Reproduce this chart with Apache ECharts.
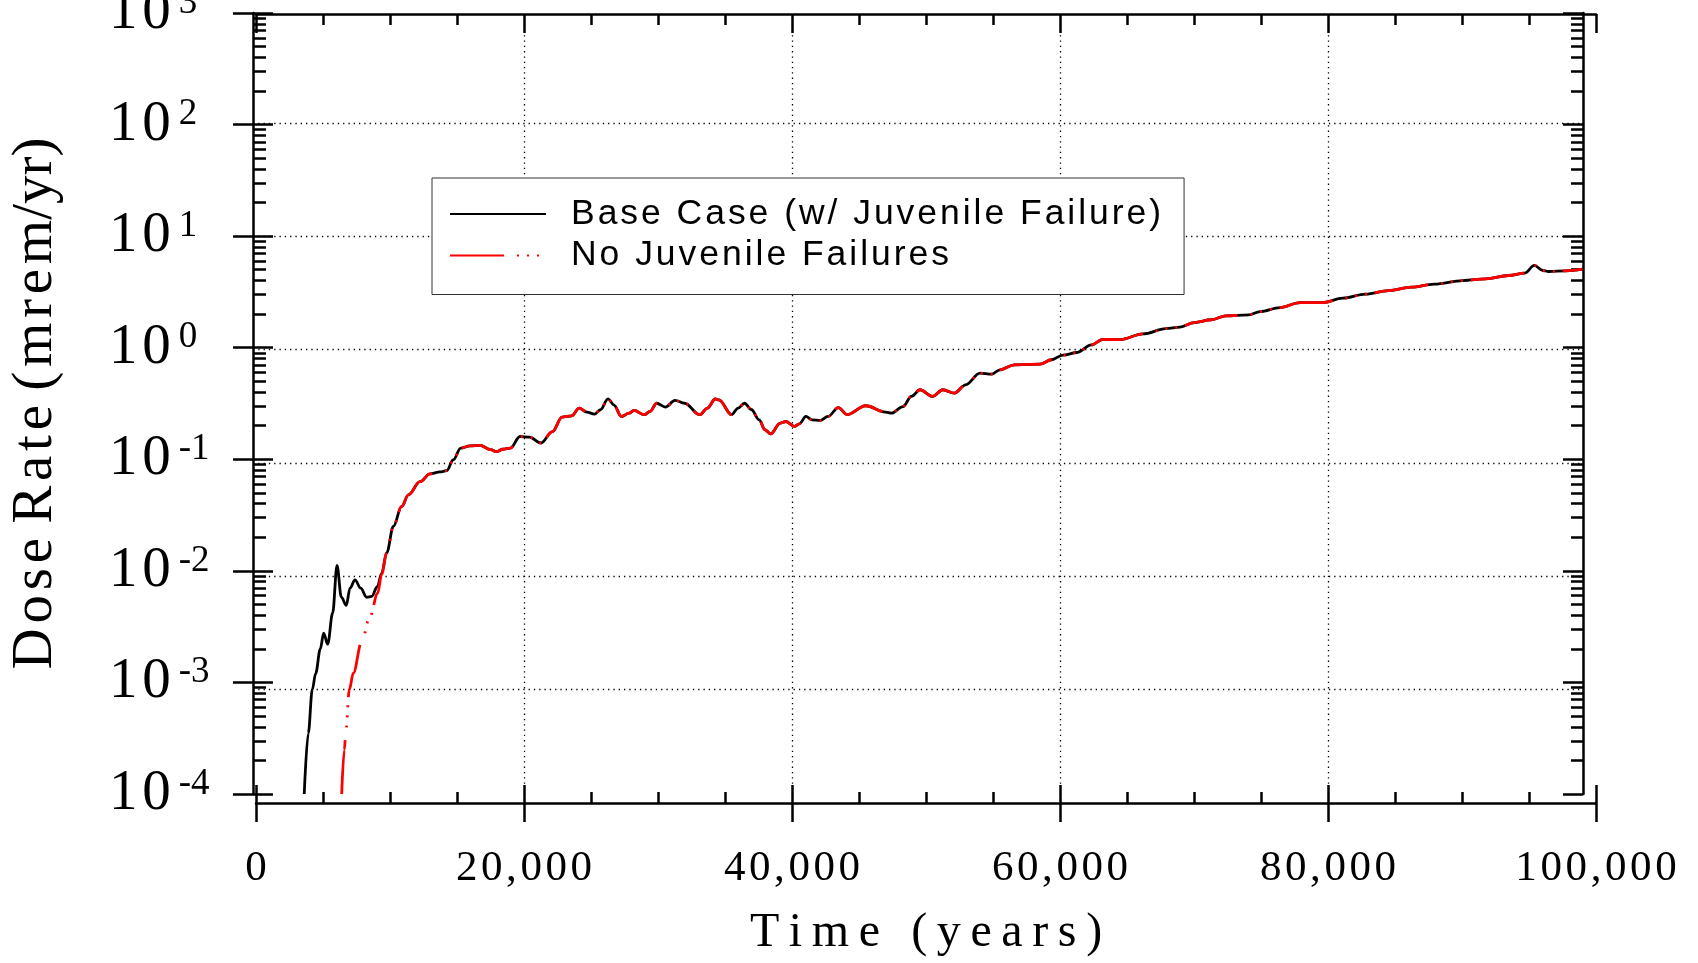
<!DOCTYPE html>
<html>
<head>
<meta charset="utf-8">
<script src="https://cdn.jsdelivr.net/npm/echarts@6.0.0/dist/echarts.min.js"></script>
<style>
html, body { margin: 0; padding: 0; background: #ffffff; }
#chart { width: 1698px; height: 963px; }
</style>
</head>
<body>
<div id="chart"></div>
<script>
// ---------------- data ----------------
const seriesNames = ['Base Case (w/ Juvenile Failure)', 'No Juvenile Failures'];

// early part, base case (with juvenile failures)
const baseEarlyYears = [3600, 3900, 4200, 4450, 4800, 5050, 5350, 5720, 6045, 6368, 6739, 7015, 7388, 7810, 8260, 8633, 9054, 9378];
const baseEarlyDose  = [1.0e-4, 3.5e-4, 8.6e-4, 1.2e-3, 2.0e-3, 2.77e-3, 2.2e-3, 4.19e-3, 1.12e-2, 5.82e-3, 4.9e-3, 7.0e-3, 8.3e-3, 7.0e-3, 5.8e-3, 5.9e-3, 7.2e-3, 9.5e-3];

// early part, no juvenile failures
const noJuvEarlyYears = [6394, 6590, 6716, 6963, 7262, 7888, 8507, 9082, 9378];
const noJuvEarlyDose  = [1.0e-4, 2.49e-4, 3.77e-4, 8.6e-4, 1.21e-3, 2.33e-3, 3.91e-3, 6.3e-3, 9.3e-3];

// part where both curves coincide
const sharedYears = [9750, 10250, 10870, 11370, 12240, 12985, 13730, 14230, 14725, 15275, 15970, 16715, 17515, 17960, 18410, 18980, 19700, 20410, 21270, 22120, 22840, 23550, 24120, 24690, 25270, 25700, 26270, 26700, 27270, 27840, 28210, 28980, 29400, 29900, 30550, 31270, 31980, 33120, 33690, 34270, 34550, 35490, 35980, 36460, 36980, 37550, 37980, 38410, 39120, 39550, 40180, 40550, 41040, 41490, 42120, 42690, 43460, 44120, 45500, 46990, 47420, 48280, 48910, 49550, 50490, 51260, 52110, 52960, 54030, 54880, 55520, 56590, 58510, 59360, 60220, 61280, 62340, 63200, 64480, 66190, 67890, 68960, 70020, 71300, 72370, 74070, 74930, 76420, 77910, 79620, 81110, 82810, 84520, 86220, 87930, 90060, 91770, 93480, 94670, 95400, 96040, 96460, 97740, 99000];
const sharedDose = [0.0145, 0.025, 0.0378, 0.048, 0.063, 0.074, 0.077, 0.079, 0.099, 0.126, 0.132, 0.133, 0.122, 0.117, 0.123, 0.126, 0.16, 0.158, 0.14, 0.177, 0.239, 0.245, 0.288, 0.265, 0.254, 0.278, 0.348, 0.308, 0.242, 0.259, 0.274, 0.251, 0.268, 0.318, 0.294, 0.337, 0.318, 0.251, 0.288, 0.347, 0.341, 0.251, 0.288, 0.318, 0.278, 0.226, 0.184, 0.169, 0.211, 0.218, 0.197, 0.208, 0.242, 0.226, 0.223, 0.242, 0.291, 0.251, 0.302, 0.265, 0.259, 0.297, 0.366, 0.42, 0.366, 0.42, 0.392, 0.465, 0.592, 0.579, 0.634, 0.703, 0.713, 0.78, 0.859, 0.906, 1.06, 1.19, 1.18, 1.33, 1.48, 1.53, 1.68, 1.78, 1.93, 1.97, 2.11, 2.29, 2.54, 2.54, 2.78, 3.02, 3.25, 3.49, 3.72, 4.0, 4.14, 4.44, 4.66, 5.46, 4.92, 4.82, 4.89, 5.06];

// ticks
const xTickValues = [0, 20000, 40000, 60000, 80000, 100000];
const xTickLabels = ['0', '20,000', '40,000', '60,000', '80,000', '100,000'];
const yTickValues = [1e-4, 1e-3, 1e-2, 1e-1, 1, 1e1, 1e2, 1e3];
const yTickExponents = ['-4', '-3', '-2', '-1', '0', '1', '2', '3'];
const yMinorTicks = [];
for (let e = -4; e < 3; e++) { for (let m = 2; m <= 9; m++) { yMinorTicks.push(m * Math.pow(10, e)); } }

const xTitle = 'Time (years)';
const yTitleParts = ['Dose', 'Rate', '(mrem', '/yr)'];

// ---------------- helpers ----------------
const HS = '\u200A';   // hair space (letter spacing)
const TS = '\u2009';   // thin space
const spread = (s, sep) => Array.from(s).join(sep);
const pairs = (xs, ys) => xs.map((x, i) => [x, ys[i]]);
const AX = '#000000';
const LW = 2.5;
const axLine = { color: AX, width: LW };
const dotted = { color: '#000000', width: 1.3, type: [1.3, 4] };

const yTitle = spread(yTitleParts[0], HS) + ' ' + spread(yTitleParts[1], HS) + ' ' +
               spread(yTitleParts[2], HS) + yTitleParts[3];

const chart = echarts.init(document.getElementById('chart'), null, { renderer: 'canvas', width: 1698, height: 963 });

const option = {
  animation: false,
  backgroundColor: '#ffffff',
  grid: [
    { left: 256, right: 115, top: 13, bottom: 169, containLabel: false, outerBoundsMode: 'none' },
    { left: 256, right: 102, top: 14, bottom: 160, containLabel: false, outerBoundsMode: 'none' },
    { left: 253, right: 115, top: 123, bottom: 160, containLabel: false, outerBoundsMode: 'none' }
  ],
  legend: {
    show: true,
    orient: 'vertical',
    left: 432,
    top: 178,
    padding: [18, 23, 21, 17],
    itemWidth: 96,
    itemHeight: 14,
    itemGap: 5.5,
    backgroundColor: '#ffffff',
    borderColor: '#333333',
    borderWidth: 1,
    borderRadius: 0,
    selectedMode: false,
    itemStyle: { opacity: 0 },
    lineStyle: { width: 2 },
    textStyle: { fontFamily: 'Liberation Sans', fontSize: 35.5, color: '#000000', padding: [0, 0, 12, 20] },
    formatter: name => spread(name, HS),
    data: seriesNames
  },
  xAxis: [
    { gridIndex: 0, type: 'value', min: 0, max: 99030, show: false },
    {
      gridIndex: 1, type: 'value', position: 'bottom', min: 0, max: 100000, interval: 20000,
      axisLine: { show: true, onZero: false, lineStyle: axLine },
      axisTick: { show: true, inside: true, length: 18, lineStyle: axLine },
      minorTick: { show: true, splitNumber: 4, length: 11, lineStyle: axLine },
      axisLabel: {
        show: true, margin: 44, color: '#000000', fontFamily: 'Liberation Serif', fontSize: 43,
        showMinLabel: true, showMaxLabel: true, hideOverlap: false,
        formatter: v => { const i = xTickValues.indexOf(v); return i < 0 ? '' : spread(xTickLabels[i], HS); }
      },
      splitLine: { show: true, showMinLine: false, showMaxLine: false, lineStyle: dotted },
      name: spread(xTitle, TS), nameLocation: 'middle', nameGap: 106, nameMoveOverlap: false,
      nameTextStyle: { fontFamily: 'Liberation Serif', fontSize: 48, color: '#000000' }
    },
    {
      gridIndex: 1, type: 'value', position: 'bottom', min: 0, max: 100000, interval: 20000,
      axisLine: { show: false, onZero: false },
      axisTick: { show: true, inside: false, length: 19, lineStyle: axLine },
      axisLabel: { show: false }, splitLine: { show: false }
    },
    {
      gridIndex: 1, type: 'value', position: 'top', min: 0, max: 100000, interval: 20000,
      axisLine: { show: true, onZero: false, lineStyle: axLine },
      axisTick: { show: true, inside: true, length: 19, lineStyle: axLine },
      minorTick: { show: true, splitNumber: 4, length: 11, lineStyle: axLine },
      axisLabel: { show: false }, splitLine: { show: false }
    },
    { gridIndex: 2, type: 'value', min: 0, max: 1, show: false }
  ],
  yAxis: [
    {
      gridIndex: 0, type: 'log', logBase: 10, min: 1e-4, max: 1e3, position: 'left', offset: 3,
      axisLine: { show: true, onZero: false, lineStyle: axLine },
      axisTick: { show: true, inside: true, length: 20, customValues: yTickValues, lineStyle: axLine },
      minorTick: { show: false },
      axisLabel: {
        show: true, customValues: yTickValues, margin: 144, align: 'left', hideOverlap: false,
        formatter: v => {
          const i = yTickValues.findIndex(t => Math.abs(Math.log10(t) - Math.log10(v)) < 1e-6);
          return '{b|' + spread('10', HS) + '}{e|' + (i < 0 ? '' : yTickExponents[i]) + '}';
        },
        rich: {
          b: { fontFamily: 'Liberation Serif', fontSize: 57, lineHeight: 57, color: '#000000' },
          e: { fontFamily: 'Liberation Serif', fontSize: 37, lineHeight: 37, color: '#000000', verticalAlign: 'top', padding: [0, 0, 0, 8] }
        }
      },
      splitLine: { show: false },
      name: yTitle, nameLocation: 'middle', nameGap: 188, nameRotate: 90, nameMoveOverlap: false,
      nameTextStyle: { fontFamily: 'Liberation Serif', fontSize: 57, color: '#000000' }
    },
    {
      gridIndex: 0, type: 'log', logBase: 10, min: 1e-4, max: 1e3, position: 'left', offset: 3,
      axisLine: { show: false, onZero: false },
      axisTick: { show: true, inside: false, length: 20, customValues: yTickValues, lineStyle: axLine },
      axisLabel: { show: false }, splitLine: { show: false }
    },
    {
      gridIndex: 0, type: 'log', logBase: 10, min: 1e-4, max: 1e3, position: 'left', offset: 3,
      axisLine: { show: false, onZero: false },
      axisTick: { show: true, inside: true, length: 13, customValues: yMinorTicks, lineStyle: axLine },
      axisLabel: { show: false }, splitLine: { show: false }
    },
    {
      gridIndex: 0, type: 'log', logBase: 10, min: 1e-4, max: 1e3, position: 'right',
      axisLine: { show: true, onZero: false, lineStyle: axLine },
      axisTick: { show: true, inside: true, length: 20, customValues: yTickValues, lineStyle: axLine },
      axisLabel: { show: false }, splitLine: { show: false }
    },
    {
      gridIndex: 0, type: 'log', logBase: 10, min: 1e-4, max: 1e3, position: 'right',
      axisLine: { show: false, onZero: false },
      axisTick: { show: true, inside: true, length: 12, customValues: yMinorTicks, lineStyle: axLine },
      axisLabel: { show: false }, splitLine: { show: false }
    },
    { gridIndex: 1, type: 'value', min: 0, max: 1, show: false },
    {
      gridIndex: 2, type: 'value', min: -4, max: 2, interval: 1,
      axisLine: { show: false, onZero: false }, axisTick: { show: false }, axisLabel: { show: false },
      splitLine: { show: true, showMinLine: false, showMaxLine: true, lineStyle: dotted }
    }
  ],
  series: [
    {
      name: seriesNames[0], type: 'line', xAxisIndex: 0, yAxisIndex: 0,
      data: pairs(baseEarlyYears.concat(sharedYears), baseEarlyDose.concat(sharedDose)),
      symbol: 'none', showSymbol: false, smooth: 0.35, smoothMonotone: 'x', clip: true,
      lineStyle: { color: '#000000', width: 2.8 }, itemStyle: { color: '#000000' }, z: 3
    },
    {
      name: seriesNames[1], type: 'line', xAxisIndex: 0, yAxisIndex: 0,
      data: pairs(noJuvEarlyYears.concat(sharedYears), noJuvEarlyDose.concat(sharedDose)),
      symbol: 'none', showSymbol: false, smooth: 0.35, smoothMonotone: 'x', clip: true,
      lineStyle: { color: '#ff0000', width: 2.8, type: [54, 13, 2, 8, 2, 8, 2, 8] }, itemStyle: { color: '#ff0000' }, z: 4
    }
  ]
};
chart.setOption(option);
</script>
</body>
</html>
